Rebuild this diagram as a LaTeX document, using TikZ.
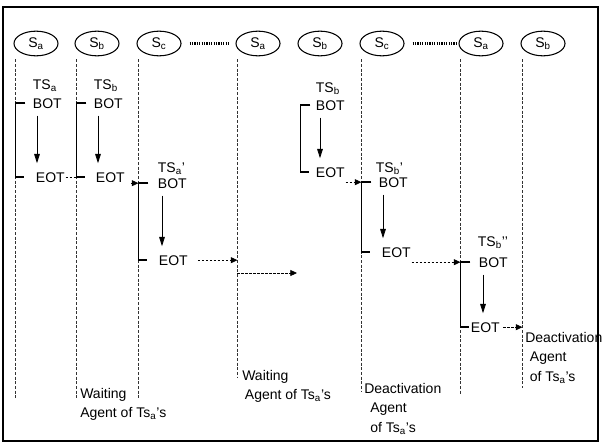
\documentclass[tikz,border=0pt]{standalone}
\usepackage{fontspec}
\setmainfont{Liberation Sans}
\usetikzlibrary{shapes.geometric, arrows.meta, calc}
\tikzset{
  site/.style={draw, ellipse, line width=0.8pt, minimum width=33pt, minimum height=18.5pt, inner sep=0pt},
  life/.style={draw=black!80, line width=0.55pt, dash pattern=on 2.2pt off 1.3pt},
  brk/.style={line width=1.3pt},
  task/.style={-{Triangle[length=7pt,width=4.2pt]}, line width=0.6pt, shorten <=5pt, shorten >=6pt},
  flow/.style={-{Triangle[length=5pt,width=4.5pt]}, line width=0.6pt, dash pattern=on 1.8pt off 1.2pt},
  gap/.style={line width=1.6pt, dash pattern=on 0.9pt off 0.9pt},
  txt/.style={anchor=base west, inner sep=0.5pt},
  note/.style={anchor=north west, inner sep=0pt, align=left}
}

\begin{document}
\begin{tikzpicture}[x=0.75pt, y=-0.75pt, font=\fontsize{10.5}{14.5}\selectfont]
\useasboundingbox (0,0) rectangle (602,443);
\draw[line width=0.8pt] (3,7) rectangle (598,441);

% sites
\foreach \n/\sub/\cx in {sa1/a/36, sb1/b/97, sc1/c/159, sa2/a/258, sb2/b/320, sc2/c/382, sa3/a/481, sb3/b/543}
  \node[site] (\n) at (\cx,43.5) {S\textsubscript{\sub}};
\draw[gap, shorten <=6pt, shorten >=5pt] (sc1.east) -- (sa2.west);
\draw[gap, shorten <=6pt, shorten >=2pt] (sc2.east) -- (sa3.west);

% lifelines
\foreach \n/\e in {sa1/400, sb1/400, sc1/400, sa2/378, sc2/392, sa3/395, sb3/388}{
  \coordinate (\n-x) at ($(\n.west)+(2,0)$);
  \coordinate (\n-end) at (\n-x |- 0,\e);
  \draw[life] ($(\n-x |- \n.south)+(0,3)$) -- (\n-end);
}
\coordinate (sb2-x) at ($(sb2.west)+(3,0)$);

% transactions
\node[txt] (ts1) at (32,89) {TS\textsubscript{a}};
\node[txt] (bot1) at (32,108) {BOT};
\node[txt] (eot1) at (35,182) {EOT};
\node[txt] (ts2) at (93,89) {TS\textsubscript{b}};
\node[txt] (bot2) at (93,108) {BOT};
\node[txt] (eot2) at (95,182) {EOT};
\node[txt] (ts3) at (157,172) {TS\textsubscript{a}'};
\node[txt] (bot3) at (157,188) {BOT};
\node[txt] (eot3) at (158,265) {EOT};
\node[txt] (ts4) at (315,92) {TS\textsubscript{b}};
\node[txt] (bot4) at (315,110) {BOT};
\node[txt] (eot4) at (315,177) {EOT};
\node[txt] (ts5) at (375,172) {TS\textsubscript{b}'};
\node[txt] (bot5) at (378,187) {BOT};
\node[txt] (eot5) at (381,257) {EOT};
\node[txt] (ts6) at (477,246) {TS\textsubscript{b}'{}'};
\node[txt] (bot6) at (478,267) {BOT};
\node[txt] (eot6) at (470,332) {EOT};

\foreach \idx/\lane in {1/sa1, 2/sb1, 3/sc1, 4/sb2, 5/sc2, 6/sa3}{
  \draw[brk] ($(bot\idx.west -| \lane-x)+(10,0)$) -- (bot\idx.west -| \lane-x)
    -- (eot\idx.west -| \lane-x) -- ++(9,0);
  \coordinate (run\idx) at ($(bot\idx.south west)+(5,0)$);
  \draw[task] (run\idx) -- (run\idx |- eot\idx.north);
}

% hand-overs
\draw[flow, -] (eot1.east) -- (eot2.west -| sb1-x);
\draw[flow, shorten <=4pt] (eot2.east |- bot3.west) -- (bot3.west -| sc1-x);
\draw[flow, shorten <=7pt] (eot3.east) -- (eot3.east -| sa2-x);
\coordinate (idle) at (297,273);
\draw[flow] (idle -| sa2-x) -- (idle);
\draw[flow] (eot4.east |- bot5.west) -- (bot5.west -| sc2-x);
\draw[flow] (eot5.east |- bot6.west) -- (bot6.west -| sa3-x);
\draw[flow, shorten <=2pt] (eot6.east) -- (eot6.east -| sb3-x);

% agents
\node[note] (wait1) at (80,388) {Waiting\\Agent of Ts\textsubscript{a}'s};
\node[note] (wait2) at (242,370) {Waiting\\\hspace*{2pt}Agent of Ts\textsubscript{a}'s};
\node[note] (deact1) at (364,383) {Deactivation\\\hspace*{4.5pt}Agent\\\hspace*{4.5pt}of Ts\textsubscript{a}'s};
\node[note] (deact2) at (525,332) {Deactivation\\\hspace*{3.5pt}Agent\\\hspace*{3.5pt}of Ts\textsubscript{a}'s};
\end{tikzpicture}
\end{document}
